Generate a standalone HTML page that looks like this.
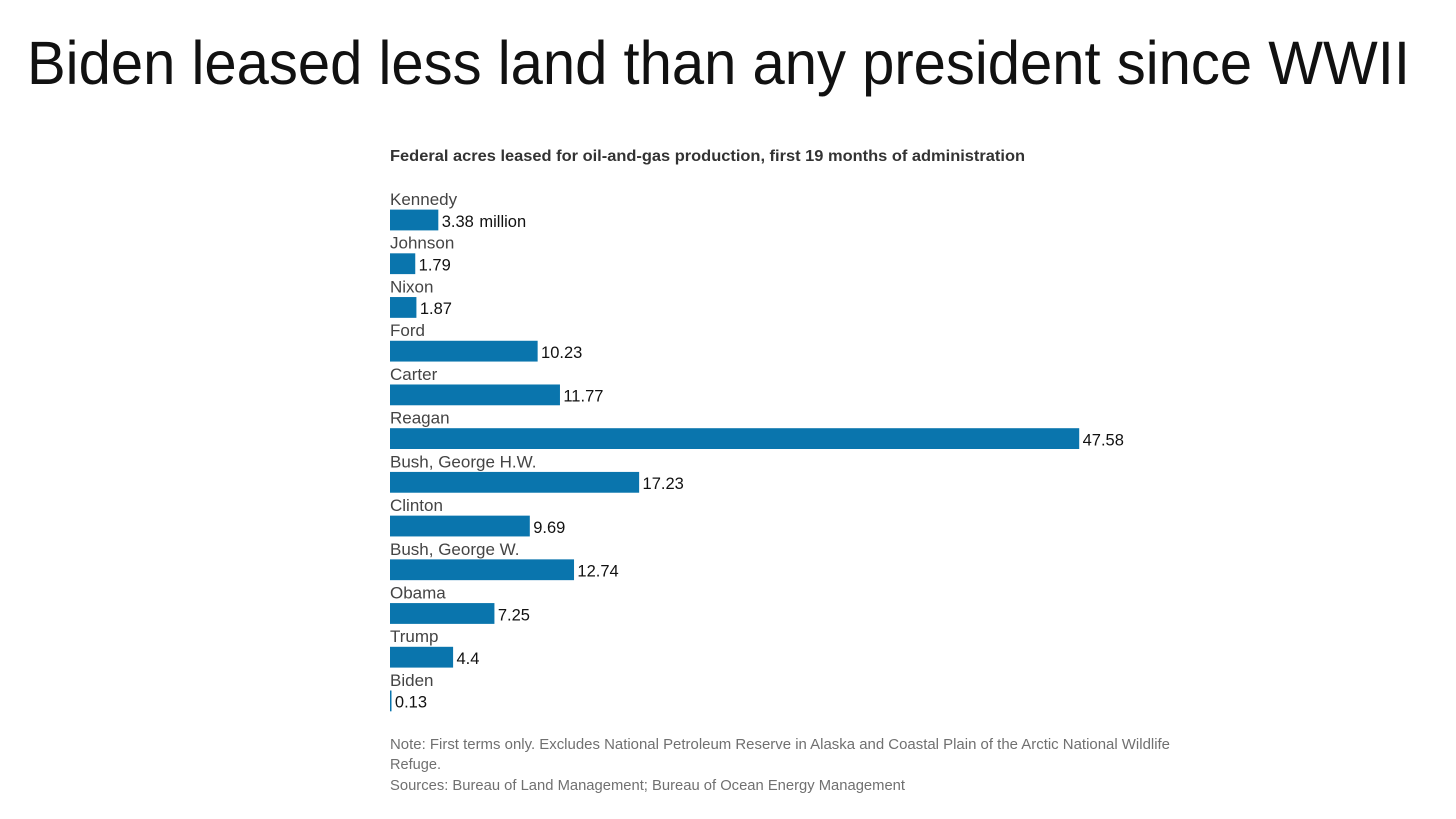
<!DOCTYPE html>
<html lang="en">
<head>
<meta charset="utf-8">
<title>Biden leased less land than any president since WWII</title>
<style>
html,body{margin:0;padding:0;background:#fff;width:1456px;height:819px;overflow:hidden}
svg{display:block;font-family:"Liberation Sans",sans-serif}
</style>
</head>
<body>
<svg id="chart" xmlns="http://www.w3.org/2000/svg" width="1456" height="819" viewBox="0 0 1456 819">
  <rect width="1456" height="819" fill="#ffffff"/>
  <text x="27" y="84" font-size="61.5" fill="#111111" textLength="1383" lengthAdjust="spacingAndGlyphs">Biden leased less land than any president since WWII</text>
  <text x="390" y="161" font-size="16" font-weight="700" fill="#333333" textLength="635" lengthAdjust="spacingAndGlyphs">Federal acres leased for oil-and-gas production, first 19 months of administration</text>
  <g id="bars"></g>
  <text x="390" y="749" font-size="14.5" fill="#707070" textLength="780" lengthAdjust="spacingAndGlyphs">Note: First terms only. Excludes National Petroleum Reserve in Alaska and Coastal Plain of the Arctic National Wildlife</text>
  <text x="390" y="769" font-size="14.5" fill="#707070" textLength="51" lengthAdjust="spacingAndGlyphs">Refuge.</text>
  <text x="390" y="790" font-size="14.5" fill="#707070" textLength="515" lengthAdjust="spacingAndGlyphs">Sources: Bureau of Land Management; Bureau of Ocean Energy Management</text>
</svg>
<script>
const presidents = ["Kennedy","Johnson","Nixon","Ford","Carter","Reagan","Bush, George H.W.","Clinton","Bush, George W.","Obama","Trump","Biden"];
const acres = [3.38,1.79,1.87,10.23,11.77,47.58,17.23,9.69,12.74,7.25,4.4,0.13];
const valueLabels = ["3.38 million","1.79","1.87","10.23","11.77","47.58","17.23","9.69","12.74","7.25","4.4","0.13"];

const NS = "http://www.w3.org/2000/svg";
const group = document.getElementById("bars");
const xScale = v => v * 14.5 - 0.7;
const rowY = i => 209.6 + i * 43.72;
const slug = s => s.toLowerCase().replace(/[^a-z0-9]+/g, "-").replace(/-$/, "");

presidents.forEach((name, i) => {
  const y = rowY(i);
  const w = Math.max(xScale(acres[i]), 1.5);

  const label = document.createElementNS(NS, "text");
  
  
  label.setAttribute("x", 390);
  label.setAttribute("y", y - 4.6);
  label.setAttribute("font-size", "17");
  label.setAttribute("fill", "#444444");
  label.textContent = name;
  group.appendChild(label);

  const bar = document.createElementNS(NS, "rect");
  
  
  bar.setAttribute("x", 390);
  bar.setAttribute("y", y);
  bar.setAttribute("width", w);
  bar.setAttribute("height", 20.8);
  bar.setAttribute("fill", "#0a75ad");
  group.appendChild(bar);

  const value = document.createElementNS(NS, "text");
  
  
  value.setAttribute("x", 390 + w + 3.4);
  value.setAttribute("y", y + 17.2);
  value.setAttribute("font-size", "16.5");
  value.setAttribute("word-spacing", "1");
  value.setAttribute("fill", "#111111");
  value.textContent = valueLabels[i];
  group.appendChild(value);
});
</script>
</body>
</html>
